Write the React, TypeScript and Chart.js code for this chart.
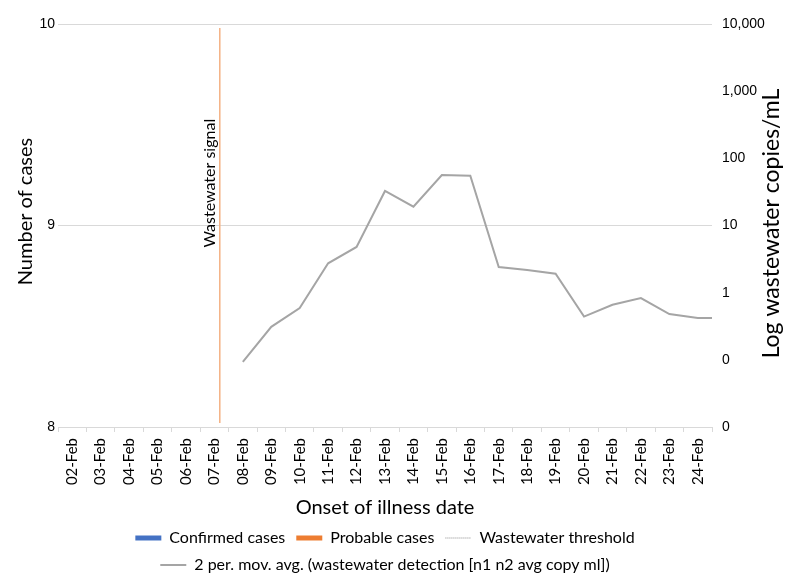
import React, { useEffect, useRef } from "react";
import { Chart, registerables } from "chart.js";

Chart.register(...registerables);

const categories = [
  "02-Feb", "03-Feb", "04-Feb", "05-Feb", "06-Feb", "07-Feb", "08-Feb", "09-Feb",
  "10-Feb", "11-Feb", "12-Feb", "13-Feb", "14-Feb", "15-Feb", "16-Feb", "17-Feb",
  "18-Feb", "19-Feb", "20-Feb", "21-Feb", "22-Feb", "23-Feb", "24-Feb",
];

const confirmedCases: (number | null)[] = [
  null, null, null, null, null, null, null, null, null, null, null, null,
  null, null, null, null, null, null, null, null, null, null, null,
];
const probableCases: (number | null)[] = [
  null, null, null, null, null, null, null, null, null, null, null, null,
  null, null, null, null, null, null, null, null, null, null, null,
];
const wastewaterThreshold: (number | null)[] = [
  null, null, null, null, null, null, null, null, null, null, null, null,
  null, null, null, null, null, null, null, null, null, null, null,
];

const movAvgDates = [
  "08-Feb", "09-Feb", "10-Feb", "11-Feb", "12-Feb", "13-Feb", "14-Feb", "15-Feb",
  "16-Feb", "17-Feb", "18-Feb", "19-Feb", "20-Feb", "21-Feb", "22-Feb", "23-Feb", "24-Feb",
];
const movAvgValues = [
  0.093, 0.31, 0.59, 2.74, 4.79, 32.7, 19.1, 56.5,
  55.2, 2.41, 2.18, 1.92, 0.44, 0.66, 0.83, 0.48, 0.42,
];

// wastewater signal marker: position on the date axis (index, between 07-Feb and 08-Feb)
const signalPosition = 5.19;
const signalRange = [8.02, 9.98];
const signalLabel = "Wastewater signal";
const signalLabelLevel = 9.21;

const leftTicks = [8, 9, 10];
const rightTicks = [0.01, 0.1, 1, 10, 100, 1000, 10000];

const xTitle = "Onset of illness date";
const leftTitle = "Number of cases";
const rightTitle = "Log wastewater copies/mL";

const legendNames = {
  confirmed: "Confirmed cases",
  probable: "Probable cases",
  threshold: "Wastewater threshold",
  movAvg: "2 per. mov. avg. (wastewater detection [n1 n2 avg copy ml])",
};

const TEXT = "#000000";
const GRID = "#D9D9D9";
const BLUE = "#4472C4";
const ORANGE = "#ED7D31";
const GRAY = "#A5A5A5";
const SIGNAL = "#F4B183";
const DOTTED = "#8C8C8C";

const extraText = {
  id: "extraText",
  afterDraw(chart: any) {
    const { ctx, chartArea, scales } = chart;
    const drawRotated = (text: string, x: number, y: number, font: string) => {
      ctx.save();
      ctx.fillStyle = TEXT;
      ctx.textAlign = "center";
      ctx.textBaseline = "middle";
      ctx.font = font;
      ctx.translate(x, y);
      ctx.rotate(-Math.PI / 2);
      ctx.fillText(text, 0, 0);
      ctx.restore();
    };
    const midY = (chartArea.top + chartArea.bottom) / 2;
    // axis titles (read bottom to top)
    drawRotated(leftTitle, chartArea.left - 32, midY - 14, "20px Lato");
    drawRotated(rightTitle, chartArea.right + 60, midY - 2, "23px Lato");
    // signal label beside the marker
    const sx = scales.xLin.getPixelForValue(signalPosition) - 10;
    const sy = scales.y.getPixelForValue(signalLabelLevel);
    drawRotated(signalLabel, sx, sy, "16px Lato");
  },
};

export default function App() {
  const ref = useRef<HTMLCanvasElement | null>(null);

  useEffect(() => {
    if (!ref.current) return;
    Chart.defaults.font.family = "Lato";
    const movAvgPoints = movAvgDates.map((d, i) => ({ x: categories.indexOf(d), y: movAvgValues[i] }));
    const lastIdx = categories.indexOf(movAvgDates[movAvgDates.length - 1]);
    movAvgPoints.push({ x: lastIdx + 0.5, y: movAvgValues[movAvgValues.length - 1] });

    const legendStyle: Record<string, any> = {
      [legendNames.confirmed]: { color: BLUE, width: 5, dash: [] },
      [legendNames.probable]: { color: ORANGE, width: 5, dash: [] },
      [legendNames.threshold]: { color: DOTTED, width: 1, dash: [1, 1] },
      [legendNames.movAvg]: { color: GRAY, width: 2, dash: [] },
    };

    const chart = new Chart(ref.current, {
      type: "bar",
      data: {
        labels: categories,
        datasets: [
          { type: "bar", label: legendNames.confirmed, data: confirmedCases, backgroundColor: BLUE, xAxisID: "x", yAxisID: "y" },
          { type: "bar", label: legendNames.probable, data: probableCases, backgroundColor: ORANGE, xAxisID: "x", yAxisID: "y" },
          {
            type: "line", label: legendNames.threshold, data: wastewaterThreshold, borderColor: DOTTED,
            borderWidth: 1, borderDash: [1, 1], pointRadius: 0, xAxisID: "x", yAxisID: "y1",
          },
          {
            type: "line", label: legendNames.movAvg, data: movAvgPoints as any, borderColor: GRAY,
            borderWidth: 2, pointRadius: 0, tension: 0, xAxisID: "xLin", yAxisID: "y1",
          },
          {
            type: "line", label: signalLabel,
            data: [{ x: signalPosition, y: signalRange[0] }, { x: signalPosition, y: signalRange[1] }] as any,
            borderColor: SIGNAL, borderWidth: 1.5, pointRadius: 0, xAxisID: "xLin", yAxisID: "y",
          },
        ],
      } as any,
      options: {
        animation: false,
        responsive: true,
        maintainAspectRatio: false,
        layout: { padding: { top: 24, bottom: -3, left: 0, right: 0 } },
        plugins: {
          tooltip: { enabled: false },
          legend: {
            position: "bottom",
            fullSize: false,
            labels: {
              usePointStyle: true,
              pointStyleWidth: 26,
              padding: 11,
              color: TEXT,
              font: { family: "Lato", size: 16 },
              generateLabels: (c: any) =>
                c.data.datasets
                  .map((ds: any, i: number) => ({ ds, i }))
                  .filter(({ ds }: any) => legendStyle[ds.label])
                  .map(({ ds, i }: any) => {
                    const st = legendStyle[ds.label];
                    return {
                      text: ds.label,
                      fillStyle: st.color,
                      strokeStyle: st.color,
                      lineWidth: st.width,
                      lineDash: st.dash,
                      pointStyle: "line",
                      hidden: false,
                      datasetIndex: i,
                      fontColor: TEXT,
                    };
                  }),
            },
          },
        },
        scales: {
          x: {
            type: "category",
            offset: true,
            grid: { display: true, drawOnChartArea: false, offset: true, tickLength: 5, color: GRID },
            border: { display: true, color: GRID },
            ticks: {
              autoSkip: false, minRotation: 90, maxRotation: 90, padding: 6,
              color: TEXT, font: { family: "Lato", size: 15 },
            },
            title: {
              display: true, text: xTitle, color: TEXT,
              font: { family: "Lato", size: 20 }, padding: { top: 0, bottom: -1 },
            },
            afterFit: (s: any) => { s.height = 92; },
          },
          xLin: {
            type: "linear", display: false, offset: false,
            min: -0.5, max: categories.length - 0.5,
          },
          y: {
            type: "linear",
            position: "left",
            min: leftTicks[0],
            max: leftTicks[leftTicks.length - 1],
            afterBuildTicks: (s: any) => { s.ticks = leftTicks.map((v) => ({ value: v })); },
            grid: { color: GRID, drawTicks: false },
            border: { display: false },
            ticks: { padding: 3, color: TEXT, font: { family: "Liberation Sans", size: 14 } },
            title: { display: false, text: leftTitle },
            afterFit: (s: any) => { s.width = 58; },
          },
          y1: {
            type: "logarithmic",
            position: "right",
            min: rightTicks[0],
            max: rightTicks[rightTicks.length - 1],
            afterBuildTicks: (s: any) => { s.ticks = rightTicks.map((v) => ({ value: v })); },
            grid: { display: false, drawTicks: false },
            border: { display: false },
            ticks: {
              padding: 10, color: TEXT, font: { family: "Liberation Sans", size: 14 },
              callback: (v: any) => (Number(v) < 1 ? "0" : Number(v).toLocaleString("en-US")),
            },
            title: { display: false, text: rightTitle },
            afterFit: (s: any) => { s.width = 80; },
          },
        },
      } as any,
      plugins: [extraText],
    });
    return () => chart.destroy();
  }, []);

  return (
    <div style={{ position: "absolute", left: 0, top: 0, width: 792, height: 580 }}>
      <canvas ref={ref} />
    </div>
  );
}
